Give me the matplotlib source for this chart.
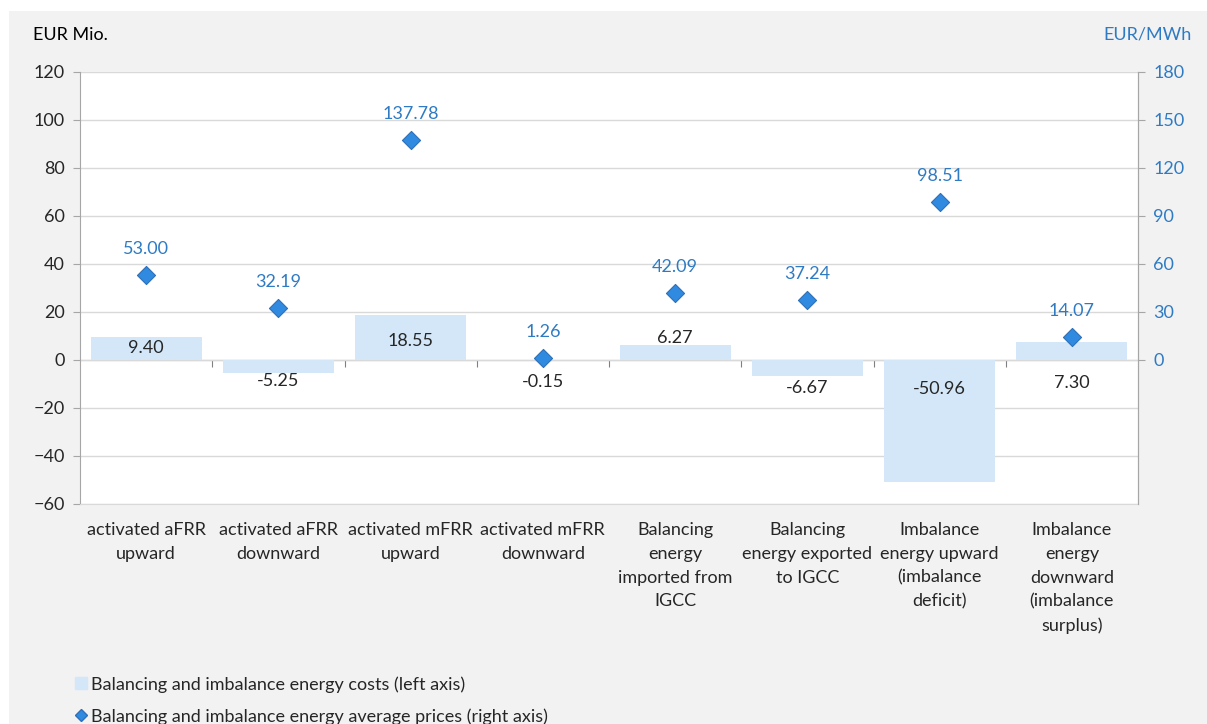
import matplotlib
matplotlib.use("Agg")
import matplotlib.pyplot as plt
from matplotlib.patches import Rectangle
from matplotlib.lines import Line2D

categories = [
    "activated aFRR\nupward",
    "activated aFRR\ndownward",
    "activated mFRR\nupward",
    "activated mFRR\ndownward",
    "Balancing\nenergy\nimported from\nIGCC",
    "Balancing\nenergy exported\nto IGCC",
    "Imbalance\nenergy upward\n(imbalance\ndeficit)",
    "Imbalance\nenergy\ndownward\n(imbalance\nsurplus)",
]
costs = [9.40, -5.25, 18.55, -0.15, 6.27, -6.67, -50.96, 7.30]
prices = [53.00, 32.19, 137.78, 1.26, 42.09, 37.24, 98.51, 14.07]
cost_label_y = [5.0, -8.8, 7.9, -9.2, 9.2, -11.7, -12.0, -9.6]

left_ticks = list(range(-60, 121, 20))
right_ticks = list(range(0, 181, 30))

plt.rcParams['font.family'] = ['Lato', 'DejaVu Sans']

BAR = "#d3e7f9"
DIA = "#2f8ae0"
DIA_EDGE = "#2f70b8"
BLUE = "#2e7bc4"
GRID = "#d9d9d9"
SPINE = "#a6a6a6"
TXT = "#262626"
FS = 13

W, H = 1207, 724
fig = plt.figure(figsize=(W / 100, H / 100), dpi=100, facecolor="white")
fig.patches.append(Rectangle((9 / W, 0), 1 - 9 / W, 1 - 11 / H, transform=fig.transFigure,
                             facecolor="#f2f2f2", edgecolor="none", zorder=-10))

ax = fig.add_axes([80 / W, 1 - 504 / H, (1138 - 80) / W, (504 - 72) / H])
ax.set_facecolor("white")
x = list(range(len(categories)))
ax.bar(x, costs, width=0.84, color=BAR, zorder=2)
ax.set_xlim(-0.5, len(categories) - 0.5)
ax.set_ylim(-60, 120)
ax.set_yticks(left_ticks)
ax.yaxis.grid(True, color=GRID, linewidth=1, zorder=0)
ax.set_axisbelow(True)
ax.tick_params(axis="y", direction="out", length=5, color=SPINE, labelsize=FS, labelcolor=TXT, pad=6)
ax.set_xticks(x)
ax.set_xticklabels(categories, fontsize=FS, color=TXT, linespacing=1.6, va="top")
ax.tick_params(axis="x", length=0, pad=13)
ax.spines["top"].set_visible(False)
ax.spines["left"].set_color(SPINE)
ax.spines["right"].set_color(SPINE)
ax.spines["bottom"].set_color(GRID)

# zero line with category separator ticks
sec = ax.secondary_xaxis(60 / 180)
sec.set_xticks([i + 0.5 for i in x[:-1]])
sec.set_xticklabels([])
sec.tick_params(direction="out", length=5, color="#808080")
sec.spines["bottom"].set_color("#808080")

for xi, v, ly in zip(x, costs, cost_label_y):
    ax.text(xi, ly, f"{v:.2f}", ha="center", va="center", fontsize=FS, color=TXT, zorder=5)

ax2 = ax.twinx()
ax2.set_ylim(-90, 180)
ax2.set_yticks(right_ticks)
ax2.tick_params(axis="y", direction="out", length=5, color=SPINE, labelsize=FS, labelcolor=BLUE, pad=6)
ax2.spines["right"].set_color(SPINE)
for s in ["top", "left", "bottom"]:
    ax2.spines[s].set_visible(False)
ax2.scatter(x, prices, marker="D", s=85, color=DIA, edgecolor=DIA_EDGE, linewidth=0.8, zorder=4)
for xi, p in zip(x, prices):
    ax2.annotate(f"{p:.2f}", (xi, p), xytext=(0, 26), textcoords="offset pixels",
                 ha="center", va="center", fontsize=FS, color=BLUE)

fig.text(33 / W, 1 - 35 / H, "EUR Mio.", ha="left", va="center", fontsize=FS, color="black")
fig.text(1192 / W, 1 - 35 / H, "EUR/MWh", ha="right", va="center", fontsize=FS, color=BLUE)

handles = [
    Line2D([], [], marker="s", linestyle="none", markersize=9, color=BAR),
    Line2D([], [], marker="D", linestyle="none", markersize=6.5, color=DIA, markeredgecolor=DIA_EDGE),
]
labels = ["Balancing and imbalance energy costs (left axis)",
          "Balancing and imbalance energy average prices (right axis)"]
fig.legend(handles, labels, loc="upper left", bbox_to_anchor=(68 / W, 1 - 669 / H), frameon=False,
           fontsize=FS, handlelength=0.6, handletextpad=0.3, labelspacing=0.85, borderaxespad=0,
           labelcolor=TXT)

fig.savefig("out.png", dpi=100, facecolor=fig.get_facecolor())
